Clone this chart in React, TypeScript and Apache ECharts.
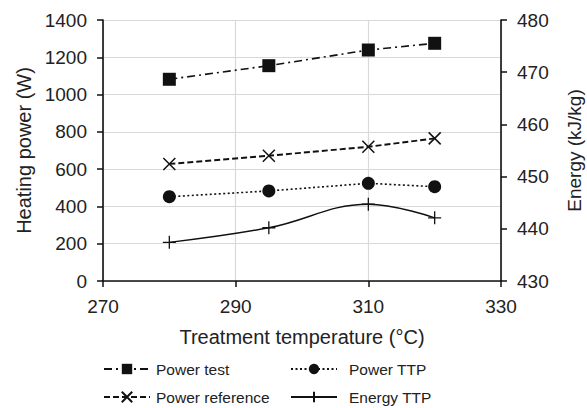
import React, { useEffect, useRef } from "react";
import * as echarts from "echarts";

const temps = [280, 295, 310, 320];
const powerTest = [1082, 1155, 1239, 1275];
const powerReference = [628, 672, 720, 765];
const powerTTP = [452, 483, 524, 506];
const energyTTP = [437.4, 440.2, 444.7, 442.1];

const FONT = "Liberation Sans, Arial, sans-serif";
const crossPath = "path://M0,0L10,10M10,0L0,10";
const plusPath = "path://M5,0L5,10M0,5L10,5";

export default function App() {
  const ref = useRef<HTMLDivElement>(null);
  useEffect(() => {
    const chart = echarts.init(ref.current!, null, { renderer: "svg" });
    const pair = (arr: number[]) => temps.map((t, i) => [t, arr[i]]);
    const axisLine = { show: true, lineStyle: { color: "#111", width: 1.6 } };
    const axisTick = { show: true, length: 6, lineStyle: { color: "#111", width: 1.5 } };
    const splitLine = { show: true, lineStyle: { color: "#d9d9d9", width: 1.2 } };
    const label = { color: "#222", fontSize: 19, fontFamily: FONT, formatter: (v: number) => String(v) };
    const legendBase = {
      orient: "vertical",
      top: 361,
      padding: 0,
      height: 46,
      itemWidth: 46,
      itemHeight: 13,
      itemGap: 12,
    };
    chart.setOption({
      animation: false,
      backgroundColor: "#fff",
      grid: { left: 103, right: 86, top: 20, bottom: 127, outerBoundsMode: "none", containLabel: false },
      xAxis: {
        type: "value",
        min: 270,
        max: 330,
        interval: 20,
        axisLine,
        axisTick,
        splitLine,
        axisLabel: { ...label, margin: 16 },
        name: "Treatment temperature (°C)",
        nameLocation: "middle",
        nameGap: 46,
        nameTextStyle: { color: "#222", fontSize: 20, fontFamily: FONT },
      },
      yAxis: [
        {
          type: "value",
          min: 0,
          max: 1400,
          interval: 200,
          axisLine,
          axisTick,
          splitLine,
          axisLabel: { ...label, margin: 16 },
          name: "Heating power (W)",
          nameLocation: "middle",
          nameGap: 68,
          nameTextStyle: { color: "#222", fontSize: 20, fontFamily: FONT },
        },
        {
          type: "value",
          min: 430,
          max: 480,
          interval: 10,
          position: "right",
          axisLine,
          axisTick,
          splitLine: { show: false },
          axisLabel: { ...label, margin: 16 },
          name: "Energy (kJ/kg)",
          nameLocation: "middle",
          nameGap: 64,
          nameRotate: 90,
          nameTextStyle: { color: "#222", fontSize: 19, fontFamily: FONT },
        },
      ],
      legend: [
        {
          ...legendBase,
          left: 103,
          data: ["Power test", "Power reference"],
          textStyle: { color: "#222", fontSize: 15.5, fontFamily: FONT, padding: [0, 0, 0, 1] },
        },
        {
          ...legendBase,
          left: 290,
          data: ["Power TTP", "Energy TTP"],
          textStyle: { color: "#222", fontSize: 15.5, fontFamily: FONT, padding: [0, 0, 0, 7] },
        },
      ],
      series: [
        {
          name: "Power test",
          type: "line",
          data: pair(powerTest),
          symbol: "rect",
          symbolSize: 13,
          itemStyle: { color: "#111" },
          lineStyle: { color: "#111", width: 1.6, type: [8, 4, 2, 4] },
        },
        {
          name: "Power reference",
          type: "line",
          data: pair(powerReference),
          symbol: crossPath,
          symbolSize: 12,
          itemStyle: { color: "none", borderColor: "#111", borderWidth: 1.5 },
          lineStyle: { color: "#111", width: 1.9, type: [6, 3] },
        },
        {
          name: "Power TTP",
          type: "line",
          data: pair(powerTTP),
          symbol: "circle",
          symbolSize: 13,
          itemStyle: { color: "#111" },
          lineStyle: { color: "#111", width: 1.6, type: [2, 2.5] },
        },
        {
          name: "Energy TTP",
          type: "line",
          yAxisIndex: 1,
          data: pair(energyTTP),
          smooth: 0.4,
          symbol: plusPath,
          symbolSize: 13,
          itemStyle: { color: "none", borderColor: "#111", borderWidth: 1.3 },
          lineStyle: { color: "#111", width: 1.5 },
        },
      ],
    });
    return () => chart.dispose();
  }, []);
  return <div ref={ref} style={{ width: 587, height: 408, position: "absolute", left: 0, top: 0 }} />;
}
